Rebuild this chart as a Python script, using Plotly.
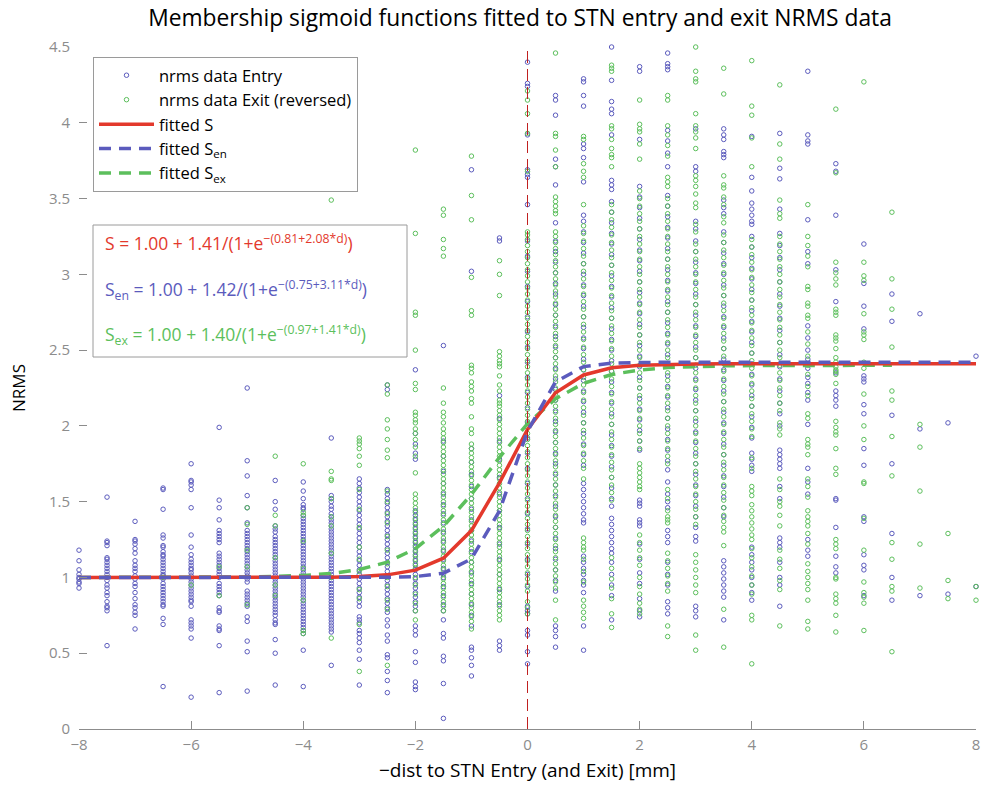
import plotly.graph_objects as go

# ---------------- data ----------------
positions = [-8, -7.5, -7, -6.5, -6, -5.5, -5, -4.5, -4, -3.5, -3, -2.5, -2, -1.5, -1, -0.5,
             0, 0.5, 1, 1.5, 2, 2.5, 3, 3.5, 4, 4.5, 5, 5.5, 6, 6.5, 7, 7.5, 8]

entry_nrms = [
    [1.18, 1.11, 1.05, 1.02, 1.00, 0.99, 0.97, 0.96, 0.93],
    [1.53, 1.24, 1.23, 1.21, 1.13, 1.12, 1.10, 1.08, 1.06, 1.04, 1.02, 1.00, 0.98, 0.95, 0.93, 0.90, 0.88, 0.84, 0.81, 0.80, 0.78, 0.55],
    [1.37, 1.25, 1.24, 1.22, 1.19, 1.16, 1.11, 1.08, 1.06, 1.04, 1.01, 0.99, 0.96, 0.94, 0.90, 0.86, 0.82, 0.80, 0.77, 0.75, 0.66],
    [1.59, 1.58, 1.45, 1.28, 1.26, 1.21, 1.20, 1.17, 1.15, 1.14, 1.12, 1.10, 1.08, 1.06, 1.04, 1.02, 1.01, 0.99, 0.96, 0.94, 0.92, 0.90, 0.88, 0.86, 0.84, 0.82, 0.81, 0.73, 0.69, 0.28],
    [1.75, 1.64, 1.63, 1.61, 1.58, 1.46, 1.28, 1.20, 1.15, 1.12, 1.10, 1.08, 1.06, 1.05, 1.03, 1.01, 0.99, 0.97, 0.95, 0.93, 0.91, 0.89, 0.87, 0.85, 0.84, 0.81, 0.72, 0.70, 0.68, 0.66, 0.60, 0.21],
    [1.99, 1.51, 1.46, 1.38, 1.31, 1.29, 1.27, 1.25, 1.23, 1.16, 1.14, 1.12, 1.10, 1.08, 1.06, 1.04, 1.02, 1.00, 0.96, 0.94, 0.92, 0.90, 0.88, 0.80, 0.78, 0.77, 0.68, 0.66, 0.65, 0.55, 0.24],
    [2.25, 1.77, 1.67, 1.54, 1.46, 1.36, 1.31, 1.29, 1.27, 1.25, 1.23, 1.21, 1.19, 1.17, 1.15, 1.13, 1.11, 1.09, 1.07, 1.05, 1.03, 1.01, 0.99, 0.97, 0.91, 0.89, 0.87, 0.85, 0.83, 0.81, 0.74, 0.71, 0.58, 0.51, 0.25],
    [1.64, 1.50, 1.45, 1.34, 1.32, 1.30, 1.27, 1.25, 1.23, 1.21, 1.19, 1.17, 1.15, 1.13, 1.11, 1.09, 1.07, 1.05, 1.03, 1.01, 0.99, 0.97, 0.95, 0.93, 0.91, 0.89, 0.87, 0.85, 0.83, 0.81, 0.79, 0.77, 0.75, 0.72, 0.70, 0.69, 0.59, 0.50, 0.29],
    [1.63, 1.57, 1.52, 1.48, 1.46, 1.45, 1.41, 1.39, 1.37, 1.35, 1.33, 1.31, 1.29, 1.27, 1.25, 1.23, 1.21, 1.19, 1.17, 1.15, 1.13, 1.11, 1.09, 1.07, 1.05, 1.03, 1.01, 0.99, 0.97, 0.95, 0.93, 0.91, 0.89, 0.87, 0.85, 0.83, 0.81, 0.79, 0.77, 0.75, 0.73, 0.71, 0.69, 0.67, 0.65, 0.63, 0.52, 0.28],
    [1.92, 1.54, 1.52, 1.50, 1.47, 1.45, 1.42, 1.40, 1.38, 1.36, 1.34, 1.32, 1.30, 1.28, 1.26, 1.24, 1.22, 1.20, 1.18, 1.16, 1.14, 1.12, 1.10, 1.08, 1.06, 1.04, 1.02, 1.00, 0.98, 0.96, 0.94, 0.92, 0.90, 0.88, 0.86, 0.84, 0.82, 0.80, 0.78, 0.76, 0.74, 0.72, 0.70, 0.68, 0.66, 0.64, 0.42],
    [1.65, 1.62, 1.59, 1.56, 1.53, 1.50, 1.47, 1.44, 1.41, 1.38, 1.35, 1.32, 1.29, 1.26, 1.23, 1.20, 1.17, 1.14, 1.11, 1.08, 1.05, 1.02, 0.99, 0.96, 0.93, 0.90, 0.87, 0.84, 0.81, 0.74, 0.72, 0.70, 0.65, 0.63, 0.60, 0.57, 0.52, 0.46, 0.29],
    [2.27, 2.24, 1.58, 1.55, 1.52, 1.49, 1.46, 1.43, 1.40, 1.37, 1.34, 1.31, 1.28, 1.25, 1.22, 1.19, 1.16, 1.13, 1.10, 1.07, 1.04, 1.01, 0.98, 0.95, 0.92, 0.89, 0.86, 0.83, 0.80, 0.77, 0.72, 0.68, 0.62, 0.58, 0.49, 0.47, 0.38, 0.32, 0.24],
    [2.37, 1.95, 1.88, 1.82, 1.78, 1.44, 1.41, 1.38, 1.35, 1.32, 1.29, 1.26, 1.23, 1.20, 1.17, 1.14, 1.11, 1.08, 1.05, 1.02, 0.99, 0.96, 0.93, 0.90, 0.87, 0.84, 0.81, 0.78, 0.68, 0.65, 0.62, 0.51, 0.44, 0.31, 0.28, 0.26],
    [2.53, 1.90, 1.80, 1.70, 1.62, 1.55, 1.48, 1.42, 1.36, 1.30, 1.24, 1.18, 1.12, 1.06, 1.00, 0.94, 0.88, 0.82, 0.78, 0.72, 0.63, 0.60, 0.48, 0.45, 0.30, 0.07],
    [3.69, 3.02, 1.85, 1.76, 1.68, 1.60, 1.52, 1.45, 1.38, 1.31, 1.24, 1.17, 1.10, 1.03, 0.96, 0.89, 0.82, 0.75, 0.68, 0.54, 0.52, 0.47, 0.42, 0.35],
    [3.24, 3.22, 2.20, 2.05, 1.90, 1.78, 1.66, 1.55, 1.44, 1.33, 1.22, 1.12, 1.02, 0.92, 0.82, 0.58, 0.55, 0.52],
    [4.40, 4.26, 4.24, 3.92, 3.69, 3.66, 3.64, 3.46, 3.22, 3.12, 3.02, 2.92, 2.82, 2.72, 2.62, 2.52, 2.42, 2.32, 2.22, 2.12, 2.02, 1.92, 1.82, 1.72, 1.62, 1.52, 1.42, 1.32, 1.22, 1.12, 1.02, 0.94, 0.81, 0.78, 0.76, 0.65, 0.62, 0.51, 0.43],
    [4.18, 4.15, 4.05, 3.76, 3.71, 3.59, 3.34, 3.22, 3.15, 3.08, 3.01, 2.94, 2.87, 2.80, 2.73, 2.66, 2.59, 2.52, 2.45, 2.38, 2.31, 2.24, 2.17, 2.10, 2.03, 1.96, 1.89, 1.82, 1.75, 1.68, 1.61, 1.54, 1.47, 1.40, 1.33, 1.26, 1.19, 1.12, 1.05, 0.98, 0.91, 0.68, 0.65, 0.61, 0.54],
    [4.29, 4.27, 4.18, 4.11, 3.86, 3.83, 3.77, 3.61, 3.39, 3.35, 3.28, 3.21, 3.14, 3.07, 3.00, 2.93, 2.86, 2.79, 2.72, 2.65, 2.58, 2.51, 2.44, 2.37, 2.30, 2.23, 2.16, 2.09, 2.02, 1.95, 1.88, 1.81, 1.74, 1.62, 1.58, 1.54, 1.50, 1.46, 1.42, 1.38, 1.36, 1.14, 1.10, 1.06, 1.02, 0.98, 0.95, 0.90, 0.68, 0.52],
    [4.50, 4.28, 4.14, 4.09, 4.06, 3.92, 3.62, 3.59, 3.56, 3.48, 3.41, 3.34, 3.27, 3.20, 3.13, 3.06, 2.99, 2.92, 2.85, 2.78, 2.71, 2.64, 2.57, 2.50, 2.43, 2.36, 2.29, 2.22, 2.15, 2.08, 2.01, 1.94, 1.87, 1.80, 1.73, 1.66, 1.59, 1.52, 1.47, 1.39, 1.35, 1.31, 1.27, 1.23, 1.19, 1.16, 1.10, 1.02, 0.95, 0.88, 0.72],
    [4.37, 4.34, 3.89, 3.58, 3.51, 3.44, 3.37, 3.30, 3.23, 3.16, 3.09, 3.02, 2.95, 2.88, 2.81, 2.74, 2.67, 2.60, 2.53, 2.46, 2.39, 2.32, 2.25, 2.18, 2.11, 2.04, 1.97, 1.90, 1.84, 1.51, 1.49, 1.47, 1.38, 1.36, 1.34, 1.22, 1.12, 1.03, 0.96, 0.86, 0.78, 0.74],
    [4.46, 4.39, 4.37, 4.35, 3.95, 3.88, 3.80, 3.71, 3.52, 3.45, 3.38, 3.31, 3.24, 3.17, 3.10, 3.03, 2.96, 2.89, 2.82, 2.75, 2.68, 2.61, 2.54, 2.47, 2.40, 2.33, 2.26, 2.19, 2.12, 2.05, 1.98, 1.91, 1.84, 1.77, 1.71, 1.63, 1.55, 1.50, 1.46, 1.31, 1.27, 1.23, 1.10, 1.02, 0.95, 0.84, 0.80, 0.76],
    [3.96, 3.71, 3.68, 3.35, 3.30, 3.22, 3.15, 3.08, 3.01, 2.94, 2.87, 2.80, 2.73, 2.66, 2.59, 2.52, 2.45, 2.38, 2.31, 2.24, 2.17, 2.10, 2.03, 1.96, 1.89, 1.82, 1.75, 1.68, 1.61, 1.54, 1.47, 1.40, 1.33, 1.27, 1.24, 0.81, 0.78, 0.74],
    [3.96, 3.92, 3.89, 3.81, 3.79, 3.77, 3.49, 3.44, 3.40, 3.28, 3.21, 3.14, 3.07, 3.00, 2.93, 2.86, 2.79, 2.72, 2.65, 2.58, 2.51, 2.44, 2.37, 2.30, 2.23, 2.16, 2.09, 2.02, 1.95, 1.88, 1.81, 1.74, 1.67, 1.60, 1.53, 1.46, 1.40, 1.11, 1.07, 1.03, 0.99, 0.95, 0.91, 0.87, 0.72],
    [3.91, 3.64, 3.55, 3.47, 3.43, 3.39, 3.35, 3.33, 3.25, 3.18, 3.11, 3.04, 2.97, 2.90, 2.83, 2.76, 2.69, 2.62, 2.55, 2.48, 2.41, 2.34, 2.27, 2.20, 2.13, 2.06, 1.99, 1.92, 1.82, 1.78, 1.74, 1.70, 1.20, 1.15, 1.10, 1.05, 1.00, 0.95, 0.90, 0.85],
    [3.93, 3.70, 3.63, 3.43, 3.27, 3.19, 3.11, 3.03, 2.95, 2.87, 2.79, 2.71, 2.63, 2.55, 2.47, 2.39, 2.31, 2.23, 2.15, 2.08, 2.00, 1.84, 1.81, 1.78, 1.75, 1.72, 1.60, 1.52, 1.26, 1.23, 1.20, 1.10, 1.00, 0.95, 0.81],
    [4.34, 3.92, 3.88, 3.86, 3.36, 3.15, 3.07, 2.66, 2.58, 2.50, 2.44, 2.38, 2.32, 2.28, 2.22, 2.17, 2.01, 1.72, 1.63, 1.55, 1.25, 1.18, 1.14],
    [3.73, 3.68, 3.39, 3.03, 2.82, 2.35, 2.23, 2.20, 2.17, 2.13, 1.52, 1.51, 1.33, 1.14, 1.07, 1.03],
    [3.20, 2.94, 2.79, 2.64, 2.33, 2.31, 2.29, 2.14, 2.08, 1.85, 1.74, 1.40, 1.37, 1.15, 1.08, 1.05, 0.88],
    [2.87, 2.69, 2.07, 1.75, 1.29, 1.00, 0.85],
    [2.74, 1.98, 0.88],
    [2.02, 0.89],
    [2.46, 0.94],
]

exit_nrms = [
    [],
    [],
    [],
    [1.00],
    [0.95],
    [1.07, 0.88],
    [1.46, 1.35, 1.18, 1.07, 0.82],
    [1.80, 1.41, 1.34, 1.13, 0.95, 0.88],
    [1.75, 1.43, 1.41, 1.24, 1.06, 0.85, 0.65, 0.63],
    [3.49, 1.70, 1.65, 1.64, 1.52, 1.40, 1.34, 1.16, 1.00, 0.60],
    [1.92, 1.90, 1.88, 1.85, 1.80, 1.74, 1.58, 1.45, 1.33, 1.20, 1.12, 1.04, 0.92, 0.86, 0.69, 0.38],
    [2.27, 2.21, 2.04, 1.98, 1.91, 1.84, 1.79, 1.57, 1.50, 1.42, 1.36, 1.27, 1.18, 1.09, 1.00, 0.94, 0.85, 0.79, 0.42],
    [3.82, 3.27, 2.75, 2.73, 2.50, 2.28, 2.24, 2.09, 2.07, 2.04, 2.02, 1.98, 1.95, 1.91, 1.86, 1.80, 1.69, 1.55, 1.52, 1.49, 1.46, 1.43, 1.39, 1.36, 1.33, 1.30, 1.27, 1.24, 1.21, 1.18, 1.15, 1.12, 1.09, 1.06, 1.00, 0.95, 0.89, 0.83, 0.78, 0.72],
    [3.43, 3.39, 3.23, 3.17, 3.12, 2.25, 2.15, 2.09, 2.06, 2.02, 1.98, 1.95, 1.92, 1.89, 1.86, 1.83, 1.80, 1.77, 1.74, 1.71, 1.68, 1.65, 1.62, 1.59, 1.56, 1.53, 1.50, 1.47, 1.44, 1.41, 1.38, 1.35, 1.32, 1.29, 1.26, 1.23, 1.20, 1.17, 1.14, 1.11, 1.08, 1.05, 1.02, 0.99, 0.96, 0.93, 0.90, 0.87, 0.84, 0.81, 0.78],
    [3.78, 3.52, 3.36, 2.98, 2.76, 2.73, 2.40, 2.38, 2.35, 2.29, 2.26, 2.23, 2.18, 2.15, 2.06, 1.98, 1.95, 1.88, 1.85, 1.82, 1.79, 1.76, 1.73, 1.70, 1.67, 1.64, 1.61, 1.58, 1.55, 1.52, 1.49, 1.46, 1.43, 1.40, 1.37, 1.34, 1.31, 1.28, 1.25, 1.22, 1.19, 1.16, 1.13, 1.10, 1.07, 1.04, 1.01, 0.98, 0.95, 0.92, 0.89, 0.86, 0.83, 0.80, 0.77, 0.74, 0.71, 0.66],
    [3.09, 3.00, 2.86, 2.49, 2.46, 2.43, 2.41, 2.39, 2.33, 2.27, 2.23, 2.17, 2.15, 2.13, 2.10, 2.07, 2.04, 2.01, 1.98, 1.95, 1.92, 1.89, 1.86, 1.83, 1.80, 1.77, 1.74, 1.71, 1.68, 1.65, 1.62, 1.59, 1.56, 1.53, 1.50, 1.47, 1.44, 1.41, 1.38, 1.35, 1.32, 1.29, 1.26, 1.23, 1.20, 1.17, 1.14, 1.11, 1.08, 1.05, 1.02, 0.99, 0.96, 0.93, 0.90, 0.87, 0.84, 0.81, 0.78, 0.75, 0.72],
    [4.21, 4.15, 4.06, 3.93, 3.68, 3.28, 3.26, 3.23, 3.19, 3.15, 3.11, 3.07, 3.03, 2.99, 2.95, 2.91, 2.87, 2.83, 2.79, 2.75, 2.71, 2.67, 2.63, 2.59, 2.55, 2.51, 2.47, 2.43, 2.39, 2.35, 2.31, 2.27, 2.23, 2.19, 2.15, 2.11, 2.07, 2.03, 1.99, 1.95, 1.91, 1.87, 1.83, 1.79, 1.75, 1.71, 1.67, 1.63, 1.59, 1.55, 1.51, 1.47, 1.43, 1.39, 1.35, 1.31, 1.27, 1.23, 1.19, 1.15, 1.11, 1.07, 1.03, 0.99, 0.95, 0.91, 0.84, 0.80, 0.76],
    [4.46, 3.93, 3.91, 3.82, 3.71, 3.51, 3.48, 3.45, 3.42, 3.40, 3.28, 3.25, 3.21, 3.17, 3.13, 3.09, 3.05, 3.01, 2.97, 2.93, 2.89, 2.85, 2.81, 2.77, 2.73, 2.69, 2.65, 2.61, 2.57, 2.53, 2.49, 2.45, 2.41, 2.37, 2.33, 2.29, 2.25, 2.21, 2.17, 2.13, 2.09, 2.05, 2.01, 1.97, 1.93, 1.89, 1.85, 1.81, 1.77, 1.73, 1.69, 1.65, 1.61, 1.57, 1.53, 1.49, 1.45, 1.41, 1.37, 1.33, 1.29, 1.25, 1.21, 1.17, 1.13, 1.09, 1.05, 1.01, 0.97, 0.93, 0.85, 0.72],
    [3.91, 3.89, 3.73, 3.68, 3.64, 3.46, 3.32, 3.27, 3.22, 3.17, 3.12, 3.07, 3.02, 2.97, 2.92, 2.87, 2.82, 2.77, 2.72, 2.67, 2.62, 2.57, 2.52, 2.47, 2.42, 2.37, 2.32, 2.27, 2.22, 2.17, 2.12, 2.07, 2.02, 1.97, 1.92, 1.87, 1.82, 1.77, 1.72, 1.65, 1.26, 1.23, 1.20, 1.18, 1.12, 1.04, 0.97, 0.85, 0.81, 0.77, 0.73],
    [4.38, 4.36, 4.34, 3.98, 3.96, 3.89, 3.83, 3.79, 3.77, 3.71, 3.46, 3.41, 3.36, 3.31, 3.26, 3.21, 3.16, 3.11, 3.06, 3.01, 2.96, 2.91, 2.86, 2.81, 2.76, 2.71, 2.66, 2.61, 2.56, 2.51, 2.46, 2.41, 2.36, 2.31, 2.26, 2.21, 2.16, 2.11, 2.06, 2.01, 1.96, 1.91, 1.86, 1.81, 1.76, 1.71, 1.66, 1.61, 1.56, 1.51, 1.13, 1.06, 0.99, 0.93, 0.86, 0.76, 0.67],
    [4.15, 3.99, 3.96, 3.94, 3.86, 3.76, 3.55, 3.50, 3.45, 3.40, 3.35, 3.30, 3.25, 3.20, 3.15, 3.10, 3.05, 3.00, 2.95, 2.90, 2.85, 2.80, 2.75, 2.70, 2.65, 2.60, 2.55, 2.50, 2.45, 2.40, 2.35, 2.30, 2.25, 2.20, 2.15, 2.10, 2.05, 2.00, 1.95, 1.90, 1.85, 1.75, 1.72, 1.69, 1.66, 1.63, 1.60, 1.58, 1.28, 1.23, 1.18, 1.13, 1.08, 1.00, 0.94, 0.89, 0.83, 0.79, 0.76],
    [4.18, 4.15, 3.98, 3.92, 3.85, 3.78, 3.64, 3.61, 3.58, 3.50, 3.45, 3.40, 3.35, 3.30, 3.25, 3.20, 3.15, 3.10, 3.05, 3.00, 2.95, 2.90, 2.85, 2.80, 2.75, 2.70, 2.65, 2.60, 2.55, 2.50, 2.45, 2.40, 2.35, 2.30, 2.25, 2.20, 2.15, 2.10, 2.05, 2.00, 1.95, 1.90, 1.85, 1.80, 1.75, 1.58, 1.52, 1.44, 1.40, 1.38, 1.36, 1.16, 1.11, 1.06, 1.01, 0.96, 0.91, 0.68, 0.61],
    [4.50, 4.34, 4.29, 4.27, 4.06, 3.98, 3.94, 3.90, 3.83, 3.65, 3.62, 3.58, 3.53, 3.47, 3.44, 3.33, 3.28, 3.20, 3.15, 3.10, 3.05, 3.00, 2.95, 2.90, 2.85, 2.80, 2.75, 2.70, 2.65, 2.60, 2.55, 2.50, 2.45, 2.40, 2.35, 2.30, 2.25, 2.20, 2.15, 2.10, 2.05, 2.00, 1.95, 1.90, 1.85, 1.80, 1.75, 1.70, 1.65, 1.60, 1.55, 1.50, 1.45, 1.40, 1.35, 1.15, 1.10, 1.05, 1.00, 0.95, 0.90, 0.62, 0.52],
    [4.36, 4.19, 3.65, 3.59, 3.57, 3.51, 3.46, 3.38, 3.34, 3.26, 3.21, 3.16, 3.11, 3.06, 3.01, 2.96, 2.91, 2.86, 2.81, 2.76, 2.71, 2.66, 2.61, 2.56, 2.51, 2.46, 2.41, 2.36, 2.31, 2.26, 2.21, 2.16, 2.11, 2.06, 2.01, 1.96, 1.91, 1.86, 1.81, 1.76, 1.71, 1.66, 1.61, 1.56, 1.51, 1.46, 1.41, 1.37, 1.33, 1.30, 1.21, 0.79, 0.54],
    [4.41, 4.11, 4.05, 3.90, 3.71, 3.23, 3.18, 3.13, 3.08, 3.03, 2.98, 2.93, 2.88, 2.83, 2.78, 2.73, 2.68, 2.63, 2.58, 2.53, 2.48, 2.43, 2.38, 2.33, 2.28, 2.23, 2.18, 2.13, 2.08, 2.03, 1.98, 1.93, 1.79, 1.72, 1.60, 1.57, 1.54, 1.48, 1.44, 1.40, 1.36, 1.32, 1.28, 1.25, 1.19, 1.13, 1.07, 1.01, 0.95, 0.89, 0.75, 0.72, 0.43],
    [4.25, 3.86, 3.76, 3.49, 3.40, 3.37, 3.25, 3.20, 3.15, 3.10, 3.05, 3.00, 2.95, 2.90, 2.85, 2.80, 2.75, 2.70, 2.65, 2.60, 2.55, 2.50, 2.45, 2.40, 2.35, 2.30, 2.25, 2.20, 2.15, 2.10, 2.02, 1.98, 1.94, 1.65, 1.58, 1.50, 1.47, 1.41, 1.34, 1.18, 1.12, 1.06, 0.98, 0.92, 0.68],
    [3.46, 3.25, 3.19, 3.12, 3.05, 2.92, 2.90, 2.81, 2.79, 2.73, 2.71, 2.62, 2.54, 2.46, 2.40, 2.34, 2.26, 2.20, 2.08, 2.05, 1.91, 1.88, 1.86, 1.81, 1.65, 1.60, 1.53, 1.44, 1.40, 1.37, 1.34, 1.29, 1.22, 1.09, 1.04, 1.00, 0.96, 0.92, 0.85, 0.71, 0.66],
    [4.09, 3.67, 3.08, 3.01, 2.97, 2.93, 2.77, 2.75, 2.73, 2.60, 2.58, 2.56, 2.51, 2.45, 2.42, 2.39, 2.37, 2.36, 2.34, 2.28, 2.03, 1.99, 1.96, 1.94, 1.85, 1.72, 1.68, 1.25, 1.22, 1.19, 1.00, 0.99, 0.89, 0.86, 0.83, 0.75, 0.64],
    [4.27, 3.08, 2.99, 2.96, 2.74, 2.62, 2.60, 2.57, 2.42, 2.38, 2.21, 2.00, 1.91, 1.63, 1.62, 1.39, 1.18, 0.97, 0.90, 0.87, 0.83, 0.65],
    [3.41, 2.97, 2.77, 2.52, 2.23, 2.17, 1.93, 1.67, 1.23, 1.12, 0.94, 0.91, 0.51],
    [2.01, 1.86, 1.57, 1.22, 0.93],
    [1.29, 0.98, 0.86],
    [0.94, 0.85],
]

# fitted curves, values read at each position
fit_S = [1.000, 1.000, 1.000, 1.000, 1.000, 1.000, 1.000, 1.000, 1.000,
         1.002, 1.006, 1.017, 1.048, 1.127, 1.309, 1.624, 1.976, 2.219, 2.336, 2.383, 2.400, 2.406, 2.409,
         2.410, 2.410, 2.410, 2.410, 2.410, 2.410, 2.410, 2.410, 2.410, 2.410]
fit_S_en = [1.000, 1.000, 1.000, 1.000, 1.000, 1.000, 1.000, 1.000, 1.000, 1.000, 1.000,
            1.001, 1.006, 1.028, 1.123, 1.439, 1.965, 2.291, 2.391, 2.414, 2.419,
            2.420, 2.420, 2.420, 2.420, 2.420, 2.420, 2.420, 2.420, 2.420, 2.420, 2.420, 2.420]
fit_S_ex = [1.000, 1.000, 1.000, 1.000, 1.001, 1.002, 1.003, 1.007, 1.013, 1.026, 1.052, 1.101, 1.190,
            1.338, 1.548, 1.792, 2.015, 2.179, 2.281, 2.339, 2.369, 2.385, 2.392, 2.396, 2.398, 2.399,
            2.400, 2.400, 2.400, 2.400]

x_ticks = [-8, -6, -4, -2, 0, 2, 4, 6, 8]
x_tick_labels = ["\u22128", "\u22126", "\u22124", "\u22122", "0", "2", "4", "6", "8"]
y_ticks = [0, 0.5, 1, 1.5, 2, 2.5, 3, 3.5, 4, 4.5]
y_tick_labels = ["0", "0.5", "1", "1.5", "2", "2.5", "3", "3.5", "4", "4.5"]

# ---------------- styling ----------------
BLUE = "#5b5bbd"
GREEN = "#5cbf5c"
RED = "#e3392c"
FONT = "Open Sans"
GREY = "#8c8c8c"

def flatten(cols):
    xs, ys = [], []
    for p, vals in zip(positions, cols):
        for v in vals:
            xs.append(p)
            ys.append(v)
    return xs, ys

ex_x, ex_y = flatten(entry_nrms)
xx_x, xx_y = flatten(exit_nrms)

fig = go.Figure()
fig.add_trace(go.Scatter(x=ex_x, y=ex_y, mode="markers", name="nrms data Entry",
                         marker=dict(symbol="circle-open", size=4.5, color=BLUE, line=dict(width=1, color=BLUE)),
                         cliponaxis=False, legendrank=1))
fig.add_trace(go.Scatter(x=xx_x, y=xx_y, mode="markers", name="nrms data Exit (reversed)",
                         marker=dict(symbol="circle-open", size=4.5, color=GREEN, line=dict(width=1, color=GREEN)),
                         cliponaxis=False, legendrank=2))
fig.add_trace(go.Scatter(x=positions[:len(fit_S_ex)], y=fit_S_ex, mode="lines", name="fitted S<sub>ex</sub>",
                         line=dict(color=GREEN, width=3.5, dash="12px,8px"), legendrank=5))
fig.add_trace(go.Scatter(x=positions, y=fit_S, mode="lines", name="fitted S",
                         line=dict(color=RED, width=3.5), legendrank=3))
fig.add_trace(go.Scatter(x=positions, y=fit_S_en, mode="lines", name="fitted S<sub>en</sub>",
                         line=dict(color=BLUE, width=3.5, dash="12px,8px"), legendrank=4))

fig.add_vline(x=0, line=dict(color="#c02020", width=1, dash="12px,6px"), layer="above")

L, R, T, B = 79, 976, 47, 729
W, H = 1008, 790
def px(xp):
    return (xp - L) / (R - L)
def py(yp):
    return (B - yp) / (B - T)

# equations box
fig.add_shape(type="rect", xref="paper", yref="paper", x0=px(93), x1=px(407), y0=py(357), y1=py(225),
              line=dict(color="#9a9a9a", width=1), fillcolor="white", layer="above")
eqs = [
    ("S = 1.00 + 1.41/(1+e<sup>\u2212(0.81+2.08*d)</sup>)", RED, 243),
    ("S<sub>en</sub> = 1.00 + 1.42/(1+e<sup>\u2212(0.75+3.11*d)</sup>)", BLUE, 290),
    ("S<sub>ex</sub> = 1.00 + 1.40/(1+e<sup>\u2212(0.97+1.41*d)</sup>)", GREEN, 335),
]
for txt, col, yy in eqs:
    fig.add_annotation(text=txt, xref="paper", yref="paper", x=px(103), y=py(yy), xanchor="left",
                       yanchor="middle", showarrow=False, font=dict(family=FONT, size=17.5, color=col))

fig.update_layout(
    width=W, height=H,
    margin=dict(l=L, r=W - R, t=T, b=H - B, autoexpand=False),
    paper_bgcolor="white", plot_bgcolor="white",
    font=dict(family=FONT, size=15, color="black"),
    title=dict(text="Membership sigmoid functions fitted to STN entry and exit NRMS data",
               x=520 / W, xanchor="center", xref="container", y=1 - 18 / H, yanchor="middle",
               yref="container", font=dict(family=FONT, size=22.8, color="black")),
    showlegend=True,
    legend=dict(x=px(93), y=py(57), xanchor="left", yanchor="top", bgcolor="white",
                bordercolor="#9a9a9a", borderwidth=1, font=dict(family=FONT, size=16.5, color="black"),
                itemwidth=55, tracegroupgap=0),
    xaxis=dict(range=[-8, 8], tickmode="array", tickvals=x_ticks, ticktext=x_tick_labels,
               ticks="inside", ticklen=8, tickcolor=GREY, showline=True, linecolor=GREY,
               linewidth=1, showgrid=False, zeroline=False, automargin=False,
               tickfont=dict(color=GREY, size=15), ticklabelstandoff=2,
               title=dict(text="\u2212dist to STN Entry (and Exit) [mm]", font=dict(size=19, color="black"),
                          standoff=10)),
    yaxis=dict(range=[0, 4.5], tickmode="array", tickvals=y_ticks, ticktext=y_tick_labels,
               ticks="inside", ticklen=8, tickcolor=GREY, showline=False, showgrid=False,
               zeroline=False, automargin=False, tickfont=dict(color=GREY, size=15),
               ticklabelstandoff=8,
               title=dict(text="NRMS", font=dict(size=17, color="black"), standoff=18)),
)

fig.write_html("out.html", config={"displayModeBar": False},
               post_script="document.body.style.margin='0px';")
